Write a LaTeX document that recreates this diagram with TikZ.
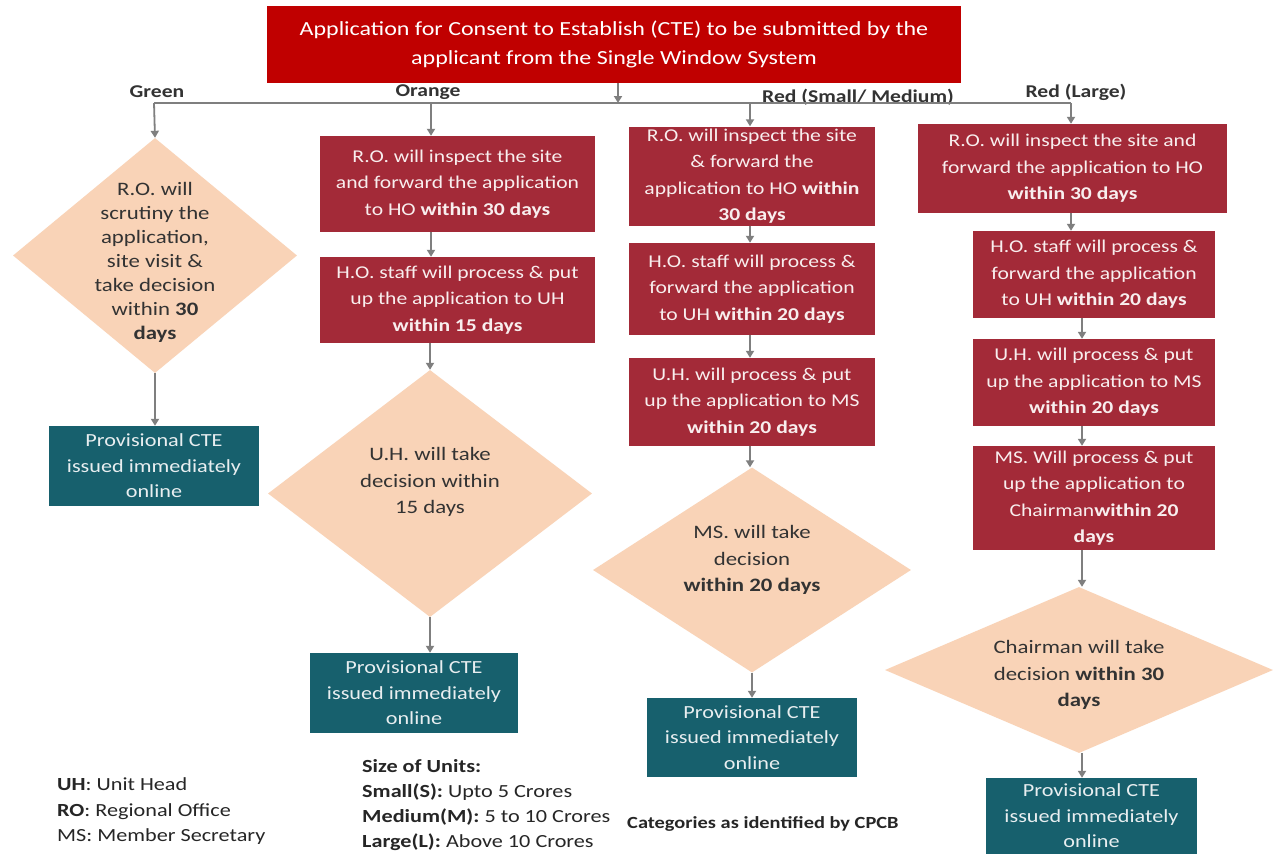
\documentclass[tikz,border=0pt]{standalone}
\usepackage{fontspec}
\setmainfont{Carlito}[FakeStretch=1.2]
\usetikzlibrary{shapes.geometric,arrows.meta}
\definecolor{titlered}{HTML}{C00000}
\definecolor{boxred}{HTML}{A32A38}
\definecolor{tealbox}{HTML}{17606D}
\definecolor{peach}{HTML}{F9D3B7}
\definecolor{arrgray}{HTML}{7F7F7F}
\definecolor{dtext}{HTML}{333333}
\definecolor{ltext}{HTML}{E8EEF0}
\definecolor{rtext}{HTML}{F8EEEE}
\begin{document}
\begin{tikzpicture}[x=1pt,y=-1pt,
  titlebox/.style={fill=titlered,text=white,inner sep=0pt,align=center,font=\fontsize{20}{29}\selectfont},
  redbox/.style={fill=boxred,text=rtext,inner sep=0pt,align=center,font=\fontsize{18}{26.5}\selectfont},
  tealnode/.style={fill=tealbox,text=ltext,inner sep=0pt,align=center,font=\fontsize{18.5}{25.5}\selectfont},
  dia/.style={diamond,fill=peach,inner sep=0pt},
  diatext/.style={text=dtext,inner sep=0pt,align=center,font=\fontsize{19}{26.5}\selectfont},
  catlabel/.style={text=dtext,inner sep=0pt,anchor=base,font=\fontsize{18}{20}\selectfont\bfseries},
  legend/.style={text=black!85,inner sep=0pt,anchor=base west,font=\fontsize{18.5}{22}\selectfont},
  conn/.style={draw=arrgray,line width=1.8pt},
  arr/.style={conn,-{Triangle[length=7pt,width=8pt]}}
]
\useasboundingbox (0,0) rectangle (1276,854);
\fill[white] (0,0) rectangle (1276,854);

% title
\node[titlebox,minimum width=694,minimum height=77] (title) at (614,44.5)
  {Application for Consent to Establish (CTE) to be submitted by the\\applicant from the Single Window System};

% bus coordinates
\coordinate (jG) at (154,103);
\coordinate (jO) at (431,103);
\coordinate (jT) at (618,103);
\coordinate (jR) at (750,103);
\coordinate (jL) at (1071,103);

% category labels
\node[catlabel] (labG) at (157,97) {Green};
\node[catlabel] (labO) at (428,96) {Orange};
\node[catlabel] (labR) at (858,102) {Red (Small/ Medium)};
\node[catlabel] (labL) at (1076,97) {Red (Large)};

% Green column
\node[dia,minimum width=284,minimum height=235] (dG) at (155,255.5) {};
\node[diatext,font=\fontsize{19}{24}\selectfont] (dGt) at (155,262)
  {R.O. will\\scrutiny the\\application,\\site visit \&\\take decision\\within \textbf{30}\\\textbf{days}};
\node[tealnode,minimum width=210,minimum height=80] (cG) at (154,466)
  {Provisional CTE\\issued immediately\\online};

% Orange column
\node[redbox,minimum width=275,minimum height=96] (o1) at (457.5,184)
  {R.O. will inspect the site\\and forward the application\\to HO \textbf{within 30 days}};
\node[redbox,minimum width=275,minimum height=86] (o2) at (457.5,300)
  {H.O. staff will process \& put\\up the application to UH\\\textbf{within 15 days}};
\node[dia,minimum width=324,minimum height=247] (dO) at (430,493.5) {};
\node[diatext] (dOt) at (430,482) {U.H. will take\\decision within\\15 days};
\node[tealnode,minimum width=208,minimum height=80] (cO) at (414,693)
  {Provisional CTE\\issued immediately\\online};

% Red small/medium column
\node[redbox,minimum width=246,minimum height=99] (r1) at (752,176)
  {R.O. will inspect the site\\\& forward the\\application to HO \textbf{within}\\\textbf{30 days}};
\node[redbox,minimum width=246,minimum height=92] (r2) at (752,289)
  {H.O. staff will process \&\\forward the application\\to UH \textbf{within 20 days}};
\node[redbox,minimum width=246,minimum height=88] (r3) at (752,402)
  {U.H. will process \& put\\up the application to MS\\\textbf{within 20 days}};
\node[dia,minimum width=318,minimum height=205] (dR) at (752,570) {};
\node[diatext] (dRt) at (752,560) {MS. will take\\decision\\\textbf{within 20 days}};
\node[tealnode,minimum width=210,minimum height=79] (cR) at (752,737.5)
  {Provisional CTE\\issued immediately\\online};

% Red large column
\node[redbox,minimum width=309,minimum height=89] (l1) at (1072.5,168.5)
  {R.O. will inspect the site and\\forward the application to HO\\\textbf{within 30 days}};
\node[redbox,minimum width=242,minimum height=87] (l2) at (1094,274.5)
  {H.O. staff will process \&\\forward the application\\to UH \textbf{within 20 days}};
\node[redbox,minimum width=242,minimum height=87] (l3) at (1094,382.5)
  {U.H. will process \& put\\up the application to MS\\\textbf{within 20 days}};
\node[redbox,minimum width=242,minimum height=104] (l4) at (1094,498)
  {MS. Will process \& put\\up the application to\\Chairman\textbf{within 20}\\\textbf{days}};
\node[dia,minimum width=388,minimum height=166] (dL) at (1079,670) {};
\node[diatext] (dLt) at (1079,675) {Chairman will take\\decision \textbf{within 30}\\\textbf{days}};
\node[tealnode,minimum width=211,minimum height=76] (cL) at (1091.5,816)
  {Provisional CTE\\issued immediately\\online};

% connectors
\draw[conn] (jG) -- (jL);
\draw[arr] (title.south -| jT) -- (jT);
\draw[arr] (jG) -- (dG.north);
\draw[arr] (dG.south) -- (cG.north -| dG.south);
\draw[arr] (jO) -- (o1.north -| jO);
\draw[arr] (o1.south -| jO) -- (o2.north -| jO);
\draw[arr] (o2.south -| dO.north) -- (dO.north);
\draw[arr] (dO.south) -- (cO.north -| dO.south);
\draw[arr] (jR) -- (r1.north -| jR);
\draw[arr] (r1.south -| jR) -- (r2.north -| jR);
\draw[arr] (r2.south -| jR) -- (r3.north -| jR);
\draw[arr] (r3.south -| jR) -- (dR.north -| jR);
\draw[arr] (dR.south) -- (cR.north -| dR.south);
\draw[arr] (jL) -- (l1.north -| jL);
\coordinate (lx) at (1082,0);
\draw[arr] (l1.south -| jL) -- (l2.north -| jL);
\draw[arr] (l2.south -| lx) -- (l3.north -| lx);
\draw[arr] (l3.south -| lx) -- (l4.north -| lx);
\draw[arr] (l4.south -| lx) -- (dL.north -| lx);
\draw[arr] (dL.south -| lx) -- (cL.north -| lx);

% legends
\node[legend] (uh) at (57,790) {\textbf{UH}: Unit Head};
\node[legend] (ro) at (57,816) {\textbf{RO}: Regional Office};
\node[legend] (ms) at (57,841) {MS: Member Secretary};
\node[legend] (sz) at (362,772) {\textbf{Size of Units:}};
\node[legend] (sm) at (362,797) {\textbf{Small(S):} Upto 5 Crores};
\node[legend] (md) at (362,822) {\textbf{Medium(M):} 5 to 10 Crores};
\node[legend] (lg) at (362,847) {\textbf{Large(L):} Above 10 Crores};
\node[legend,font=\fontsize{17}{20}\selectfont\bfseries] (cp) at (627,828) {Categories as identified by CPCB};
\end{tikzpicture}
\end{document}
